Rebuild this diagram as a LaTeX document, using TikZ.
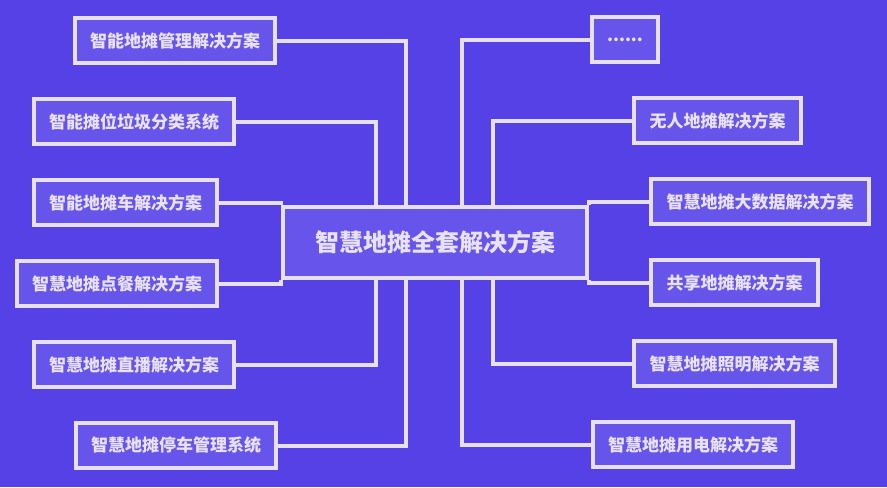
\documentclass[tikz,border=0pt]{standalone}
\usepackage{fontspec}
\setmainfont{Noto Sans CJK SC}
\usepackage{xcolor}
\usetikzlibrary{positioning}

\definecolor{bgblue}{HTML}{5641E6}
\definecolor{boxfill}{HTML}{6754EA}
\definecolor{edgegray}{HTML}{E6E0F0}
\definecolor{textgray}{HTML}{E8E2F2}

\begin{document}
\begin{tikzpicture}[x=0.75pt, y=-0.75pt, line width=3pt,
    item/.style={draw=edgegray, fill=boxfill, text=textgray, inner sep=0pt,
        minimum height=33.75pt, font=\bfseries\fontsize{12.75}{14}\selectfont},
    hub/.style={draw=edgegray, fill=boxfill, text=textgray, inner sep=0pt,
        minimum width=228pt, minimum height=53.25pt, font=\bfseries\fontsize{18}{20}\selectfont},
    link/.style={draw=edgegray}]
        % Background
        \fill[bgblue] (0,0) rectangle (887,487);

        % Centre
        \node[hub] (hub) at (435,242.5) {智慧地摊全套解决方案};

        % Left branches
        \node[item, minimum width=150pt] (mgmt) at (175,40.5) {智能地摊管理解决方案};
        \node[item, minimum width=150pt] (waste) at (134,121.5) {智能摊位垃圾分类系统};
        \node[item, minimum width=137.25pt] (cart) at (125.5,202.5) {智能地摊车解决方案};
        \node[item, minimum width=150pt] (order) at (117,283.5) {智慧地摊点餐解决方案};
        \node[item, minimum width=150pt] (live) at (134,364.5) {智慧地摊直播解决方案};
        \node[item, minimum width=150pt] (park) at (176,445.5) {智慧地摊停车管理系统};

        % Right branches
        \node[item, minimum width=49.5pt] (more) at (625,39.5) {\raisebox{-2pt}{......}};
        \node[item, minimum width=125.25pt] (unmanned) at (717.5,120.5) {无人地摊解决方案};
        \node[item, minimum width=163.5pt] (bigdata) at (760,201.5) {智慧地摊大数据解决方案};
        \node[item, minimum width=125.25pt] (shared) at (734.5,282.5) {共享地摊解决方案};
        \node[item, minimum width=150.75pt] (light) at (734.5,363.5) {智慧地摊照明解决方案};
        \node[item, minimum width=150pt] (power) at (693,444.5) {智慧地摊用电解决方案};

        % Connectors
        \draw[link] (mgmt.east) -| (406,0 |- hub.north);
        \draw[link] (waste.east) -| (376,0 |- hub.north);
        \draw[link] (cart.east) -| (hub.north west);
        \draw[link] (order.east) -| (hub.south west);
        \draw[link] (live.east) -| (376,0 |- hub.south);
        \draw[link] (park.east) -| (406,0 |- hub.south);

        \draw[link] (more.west) -| (462,0 |- hub.north);
        \draw[link] (unmanned.west) -| (493,0 |- hub.north);
        \draw[link] (bigdata.west) -| (hub.north east);
        \draw[link] (shared.west) -| (hub.south east);
        \draw[link] (light.west) -| (493,0 |- hub.south);
        \draw[link] (power.west) -| (462,0 |- hub.south);

    \end{tikzpicture}
\end{document}
